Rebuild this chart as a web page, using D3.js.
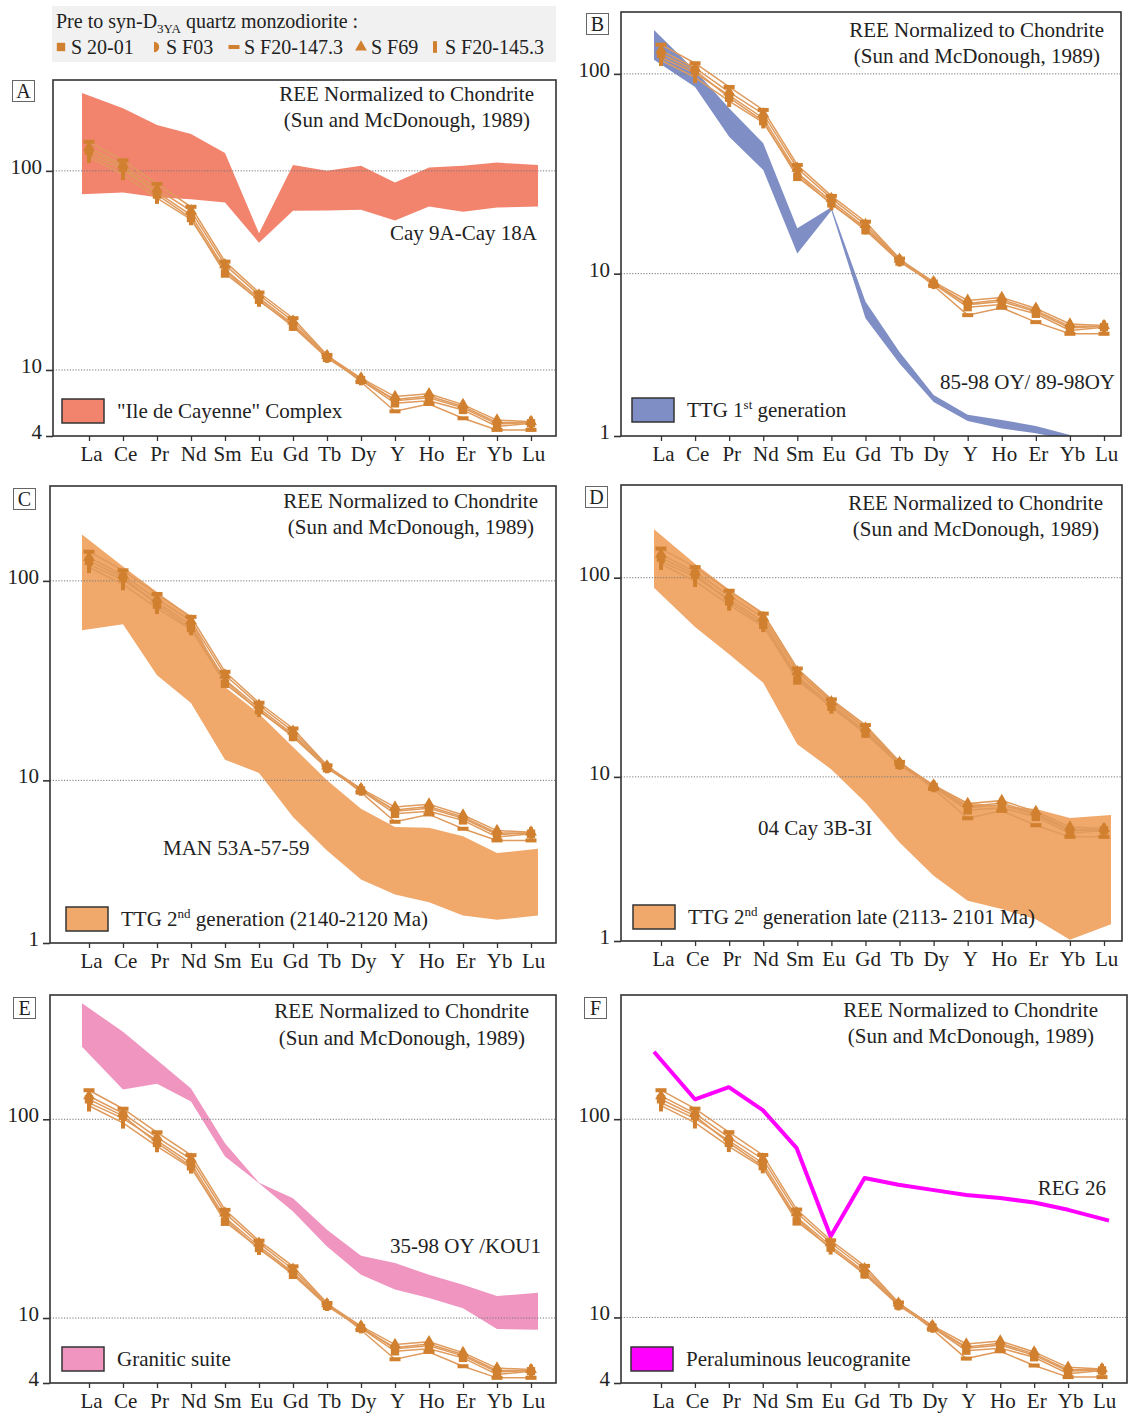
<!DOCTYPE html>
<html>
<head>
<meta charset="utf-8">
<script src="https://cdn.jsdelivr.net/npm/d3@7"></script>
<style>
	html, body { margin: 0; padding: 0; background: #ffffff; }
	svg text { font-family: "Liberation Serif", "Times New Roman", serif; fill: #222; }
</style>
</head>
<body>
<svg id="chart" width="1128" height="1414"></svg>
<script>
////////////////////////////////////////////////////////////////////////////////////////
//Data
////////////////////////////////////////////////////////////////////////////////////////
var elements = ["La", "Ce", "Pr", "Nd", "Sm", "Eu", "Gd", "Tb", "Dy", "Y", "Ho", "Er", "Yb", "Lu"];

// quartz monzodiorite samples (same in every panel)
var sampleNames = ["S 20-01", "S F03", "S F20-147.3", "S F69", "S F20-145.3"];
var sampleMarkers = ["square", "half", "dash", "triangle", "bar"];
var sampleS2001 = [126, 104, 76, 58, 30.5, 22.5, 16.5, 11.5, 8.9, 6.8, 7.0, 6.3, 5.2, 5.4];
var sampleSF03 = [121, 101, 78, 60, 32, 23, 17.0, 11.7, 9.0, 7.0, 7.25, 6.45, 5.35, 5.45];
var sampleSF20147 = [140, 113, 86, 66, 35, 24.5, 18.2, 11.9, 8.7, 6.2, 6.75, 5.72, 5.0, 5.0];
var sampleSF69 = [131, 107, 81, 63, 33.7, 23.8, 17.6, 11.8, 9.1, 7.35, 7.6, 6.7, 5.6, 5.5];
var sampleSF20145 = [117, 96, 73, 57, 31.5, 22.2, 16.8, 11.6, 8.95, 7.1, 7.4, 6.55, 5.45, 5.45];

// comparison fields (upper / lower envelope)
var cayenneHigh = [246, 206, 170, 153, 123, 48.6, 107, 100, 106, 87.3, 104, 106, 110, 107];
var cayenneLow = [76.4, 77.8, 73.8, 72.0, 69.3, 43.6, 63, 63.2, 63.7, 56.3, 66.2, 62.4, 65.4, 66.2];
var ttg1High = [166, 104, 67.3, 45, 16.9, 21.5, 7.25, 4.06, 2.47, 1.97, 1.85, 1.73, 1.56, 1.34];
var ttg1Low = [117.5, 86, 48.5, 33, 12.6, 20.7, 5.98, 3.55, 2.28, 1.83, 1.68, 1.59, 1.47, 1.29];
var ttg2High = [171, 118, 88, 66, 29.4, 21.6, 14.7, 10, 7.2, 5.83, 5.79, 5.24, 4.32, 4.54];
var ttg2Low = [56.6, 60.7, 33.6, 24.4, 12.7, 10.9, 6.55, 4.45, 3.18, 2.68, 2.45, 2.10, 2.0, 2.10];
var ttg2LateHigh = [175, 117.6, 87.3, 66.7, 34.7, 24.5, 18.0, 12.0, 9.0, 7.43, 7.16, 6.89, 6.21, 6.43];
var ttg2LateLow = [89, 56.6, 41.3, 29.7, 14.6, 10.9, 7.43, 4.69, 3.19, 2.39, 2.17, 1.93, 1.52, 1.82];
var graniticHigh = [383, 276, 199, 143, 75.7, 48.0, 40.1, 27.8, 20.6, 18.9, 16.5, 14.7, 12.9, 13.4];
var graniticLow = [232, 141, 151, 123, 64.9, 47.7, 34.4, 22.9, 16.5, 13.9, 12.6, 11.2, 8.8, 8.74];
var reg26 = [219, 126, 145, 111, 71.4, 25.6, 50.5, 46.7, 44.0, 41.5, 40.0, 38.0, 34.9, 30.8];

// y tick labels
var yTicksFrom4 = [4, 10, 100];
var yTickLabelsFrom4 = ["4", "10", "100"];
var yTicksFrom1 = [1, 10, 100];
var yTickLabelsFrom1 = ["1", "10", "100"];
var gridValues = [10, 100];

var titleLines = ["REE Normalized to Chondrite", "(Sun and McDonough, 1989)"];
var headerText = ["Pre to syn-D", "3YA", " quartz monzodiorite :"];

////////////////////////////////////////////////////////////////////////////////////////
//Panel layout
////////////////////////////////////////////////////////////////////////////////////////
var samples = [sampleS2001, sampleSF03, sampleSF20147, sampleSF69, sampleSF20145];

var panels = [
	{ letter: "A", box: [53, 80, 556, 436], letterBox: [12, 80], yDomain: [4.66, 286], xEnds: [89, 531],
		ticks: yTicksFrom4, tickLabels: yTickLabelsFrom4,
		high: cayenneHigh, low: cayenneLow, color: "#f2846e",
		title: [534, 101, 530, 127],
		label: { text: "Cay 9A-Cay 18A", x: 537, y: 240, anchor: "end" },
		legend: { x: 62, y: 399, text: [["\"Ile de Cayenne\" Complex", false]] } },
	{ letter: "B", box: [621, 12, 1121, 436], letterBox: [586, 13], yDomain: [1.54, 204], xEnds: [661, 1104],
		ticks: yTicksFrom1, tickLabels: yTickLabelsFrom1,
		high: ttg1High, low: ttg1Low, color: "#7f8fc6",
		title: [1104, 37, 1100, 63],
		label: { text: "85-98 OY/ 89-98OY", x: 1115, y: 389, anchor: "end" },
		legend: { x: 632, y: 398, text: [["TTG 1", false], ["st", true], [" generation", false]] } },
	{ letter: "C", box: [50, 486, 556, 943], letterBox: [13, 488], yDomain: [1.53, 299], xEnds: [89, 531],
		ticks: yTicksFrom1, tickLabels: yTickLabelsFrom1,
		high: ttg2High, low: ttg2Low, color: "#f0a86b",
		title: [538, 508, 534, 534],
		label: { text: "MAN 53A-57-59", x: 163, y: 855, anchor: "start" },
		legend: { x: 66, y: 907, text: [["TTG 2", false], ["nd", true], [" generation (2140-2120 Ma)", false]] } },
	{ letter: "D", box: [621, 485, 1122, 941], letterBox: [585, 486], yDomain: [1.50, 292], xEnds: [661, 1104],
		ticks: yTicksFrom1, tickLabels: yTickLabelsFrom1,
		high: ttg2LateHigh, low: ttg2LateLow, color: "#f0a86b",
		title: [1103, 510, 1099, 536],
		label: { text: "04 Cay 3B-3I", x: 758, y: 835, anchor: "start" },
		legend: { x: 633, y: 905, text: [["TTG 2", false], ["nd", true], [" generation late (2113- 2101 Ma)", false]] } },
	{ letter: "E", box: [50, 995, 556, 1383], letterBox: [13, 997], yDomain: [4.71, 422], xEnds: [89, 531],
		ticks: yTicksFrom4, tickLabels: yTickLabelsFrom4,
		high: graniticHigh, low: graniticLow, color: "#ef95c0",
		title: [529, 1018, 525, 1045],
		label: { text: "35-98 OY /KOU1", x: 541, y: 1253, anchor: "end" },
		legend: { x: 62, y: 1347, text: [["Granitic suite", false]] } },
	{ letter: "F", box: [621, 995, 1127, 1383], letterBox: [584, 997], yDomain: [4.67, 423], xEnds: [661, 1102],
		ticks: yTicksFrom4, tickLabels: yTickLabelsFrom4,
		line: reg26, color: "#ff00ff",
		title: [1098, 1017, 1094, 1043],
		label: { text: "REG 26", x: 1106, y: 1195, anchor: "end" },
		legend: { x: 631, y: 1347, text: [["Peraluminous leucogranite", false]] } }
];

var sampleLineColor = "#df9a5c";
var sampleMarkerColor = "#d0802f";
var bleed = 7; // fields run a little past La and Lu

////////////////////////////////////////////////////////////////////////////////////////
//Draw
////////////////////////////////////////////////////////////////////////////////////////
var svg = d3.select("#chart");

function markerPath(type) {
	if (type === "square") return d3.symbol(d3.symbolSquare, 70)();
	if (type === "triangle") return d3.symbol(d3.symbolTriangle, 60)();
	if (type === "half") return "M-2,-5.2A5.2,5.2 0 0 1 -2,5.2Z";
	if (type === "dash") return "M-5.5,-2H5.5V2H-5.5Z";
	return "M-2,-5.8H2V5.8H-2Z";
}

function addRichText(sel, parts, size) {
	parts.forEach(function (p, i) {
		var t = sel.append("tspan").text(p[0]);
		if (p[1]) {
			t.attr("dy", -8).attr("font-size", size * 0.62);
		} else if (i > 0 && parts[i - 1][1]) {
			t.attr("dy", 8);
		}
	});
}

function drawPanel(p) {
	var left = p.box[0], top = p.box[1], right = p.box[2], bottom = p.box[3];
	var g = svg.append("g");

	var x = d3.scalePoint().domain(elements).range(p.xEnds);
	var y = d3.scaleLog().domain(p.yDomain).range([bottom, top]);
	var xAt = function (d, i) {
		return x(elements[i]) + (i === 0 ? -bleed : (i === elements.length - 1 ? bleed : 0));
	};

	var clipId = "clip" + p.letter;
	g.append("clipPath").attr("id", clipId)
		.append("rect").attr("x", left).attr("y", top).attr("width", right - left).attr("height", bottom - top);
	var plot = g.append("g").attr("clip-path", "url(#" + clipId + ")");

	// comparison field
	if (p.high) {
		var area = d3.area()
			.x(xAt)
			.y0(function (d, i) { return y(p.low[i]); })
			.y1(function (d) { return y(d); });
		plot.append("path").datum(p.high).attr("d", area).attr("fill", p.color);
	}
	if (p.line) {
		plot.append("path").datum(p.line)
			.attr("d", d3.line().x(xAt).y(function (d) { return y(d); }))
			.attr("fill", "none").attr("stroke", p.color).attr("stroke-width", 4).attr("stroke-linejoin", "round");
	}

	// grid
	plot.selectAll(".grid").data(gridValues).join("line")
		.attr("x1", left).attr("x2", right)
		.attr("y1", function (d) { return y(d); }).attr("y2", function (d) { return y(d); })
		.attr("stroke", "#777").attr("stroke-width", 1).attr("stroke-dasharray", "1.2,1.6");

	// samples
	samples.forEach(function (s) {
		plot.append("path").datum(s)
			.attr("d", d3.line().x(function (d, i) { return x(elements[i]); }).y(function (d) { return y(d); }))
			.attr("fill", "none").attr("stroke", sampleLineColor).attr("stroke-width", 1.5);
	});
	samples.forEach(function (s, si) {
		plot.selectAll(".m" + si).data(s).join("path")
			.attr("d", markerPath(sampleMarkers[si]))
			.attr("transform", function (d, i) { return "translate(" + x(elements[i]) + "," + y(d) + ")"; })
			.attr("fill", sampleMarkerColor);
	});

	// frame
	g.append("rect").attr("x", left).attr("y", top).attr("width", right - left).attr("height", bottom - top)
		.attr("fill", "none").attr("stroke", "#333").attr("stroke-width", 1.6);

	// axes
	var yAxisScale = y.copy().clamp(true);
	var ya = g.append("g").attr("transform", "translate(" + left + ",0)")
		.call(d3.axisLeft(yAxisScale).tickValues(p.ticks)
			.tickFormat(function (d, i) { return p.tickLabels[i]; })
			.tickSize(7).tickPadding(4));
	ya.select(".domain").remove();
	ya.attr("font-size", 21).attr("font-family", null);
	ya.selectAll("line").attr("stroke", "#333").attr("stroke-width", 1.6);
	ya.selectAll("text").attr("dy", "0.12em").attr("fill", "#222");

	var xa = g.append("g").attr("transform", "translate(0," + bottom + ")")
		.call(d3.axisBottom(x).tickSize(5).tickPadding(5));
	xa.select(".domain").remove();
	xa.attr("font-size", 21).attr("font-family", null);
	xa.selectAll("line").attr("stroke", "#333").attr("stroke-width", 1.3);
	xa.selectAll("text").attr("dx", "0.1em").attr("fill", "#222");

	// title
	g.append("text").attr("x", p.title[0]).attr("y", p.title[1]).attr("text-anchor", "end")
		.attr("font-size", 21).text(titleLines[0]);
	g.append("text").attr("x", p.title[2]).attr("y", p.title[3]).attr("text-anchor", "end")
		.attr("font-size", 21).text(titleLines[1]);

	// field label
	g.append("text").attr("x", p.label.x).attr("y", p.label.y).attr("text-anchor", p.label.anchor)
		.attr("font-size", 21).text(p.label.text);

	// legend swatch
	g.append("rect").attr("x", p.legend.x).attr("y", p.legend.y).attr("width", 42).attr("height", 24)
		.attr("fill", p.color).attr("stroke", "#333").attr("stroke-width", 1.5);
	var lt = g.append("text").attr("x", p.legend.x + 55).attr("y", p.legend.y + 19).attr("font-size", 21);
	addRichText(lt, p.legend.text, 21);

	// panel letter
	g.append("rect").attr("x", p.letterBox[0] + 0.5).attr("y", p.letterBox[1] + 0.5).attr("width", 22).attr("height", 21)
		.attr("fill", "#fff").attr("stroke", "#666").attr("stroke-width", 1);
	g.append("text").attr("x", p.letterBox[0] + 11.5).attr("y", p.letterBox[1] + 18).attr("text-anchor", "middle")
		.attr("font-size", 20).text(p.letter);
}

panels.forEach(drawPanel);

////////////////////////////////////////////////////////////////////////////////////////
//Sample legend (top)
////////////////////////////////////////////////////////////////////////////////////////
var legendX = [61, 156, 234, 361, 435];
var header = svg.append("g");
header.append("rect").attr("x", 52).attr("y", 6).attr("width", 504).attr("height", 56).attr("fill", "#f1f1f1");
var ht = header.append("text").attr("x", 56).attr("y", 28).attr("font-size", 20);
ht.append("tspan").text(headerText[0]);
ht.append("tspan").attr("dy", 5).attr("font-size", 13).text(headerText[1]);
ht.append("tspan").attr("dy", -5).text(headerText[2]);

sampleNames.forEach(function (name, i) {
	header.append("path").attr("d", markerPath(sampleMarkers[i]))
		.attr("transform", "translate(" + legendX[i] + ",47)").attr("fill", sampleMarkerColor);
	header.append("text").attr("x", legendX[i] + 10).attr("y", 54).attr("font-size", 20).text(name);
});
</script>
</body>
</html>
